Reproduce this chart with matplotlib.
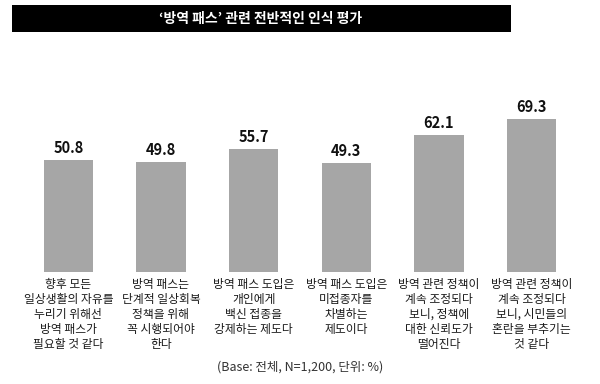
import matplotlib
matplotlib.use('Agg')
import matplotlib.pyplot as plt
from matplotlib.patches import Rectangle

plt.rcParams['font.family'] = ['Noto Sans CJK KR', 'DejaVu Sans']

title = "‘방역 패스’ 관련 전반적인 인식 평가"
categories = [
    "향후 모든\n일상생활의 자유를\n누리기 위해선\n방역 패스가\n필요할 것 같다",
    "방역 패스는\n단계적 일상회복\n정책을 위해\n꼭 시행되어야\n한다",
    "방역 패스 도입은\n개인에게\n백신 접종을\n강제하는 제도다",
    "방역 패스 도입은\n미접종자를\n차별하는\n제도이다",
    "방역 관련 정책이\n계속 조정되다\n보니, 정책에\n대한 신뢰도가\n떨어진다",
    "방역 관련 정책이\n계속 조정되다\n보니, 시민들의\n혼란을 부추기는\n것 같다",
]
values = [50.8, 49.8, 55.7, 49.3, 62.1, 69.3]
note = "(Base: 전체, N=1,200, 단위: %)"

fig = plt.figure(figsize=(6, 3.84), dpi=100)
fig.patch.set_facecolor('white')

# black title bar
fig.patches.append(Rectangle((12/600, 1 - 32/384), 499/600, 27/384,
                             transform=fig.transFigure, facecolor='black',
                             edgecolor='none'))
fig.text(261/600, 1 - 18.5/384, title, color='white', fontsize=10,
         fontweight='bold', ha='center', va='center')

ax = fig.add_axes([22/600, 1 - 272/384, 556/600, 221/384])
x = range(len(values))
ax.bar(x, values, width=0.53, color='#a6a6a6', edgecolor='none')
ax.set_xlim(-0.5, len(values) - 0.5)
ax.set_ylim(0, 100)
ax.axis('off')

for i, v in enumerate(values):
    ax.annotate(f"{v:.1f}", (i, v), xytext=(0, 3), textcoords='offset points',
                ha='center', va='bottom', fontsize=10.5, fontweight='bold',
                color='#111111')
    ax.annotate(categories[i], (i, 0), xycoords=('data', 'axes fraction'),
                xytext=(0, -4), textcoords='offset points', ha='center',
                va='top', fontsize=8.5, color='#1a1a1a', linespacing=1.2)

fig.text(300/600, 1 - 367/384, note, fontsize=9, color='#333333',
         ha='center', va='center')

fig.savefig('out.png', dpi=100)
